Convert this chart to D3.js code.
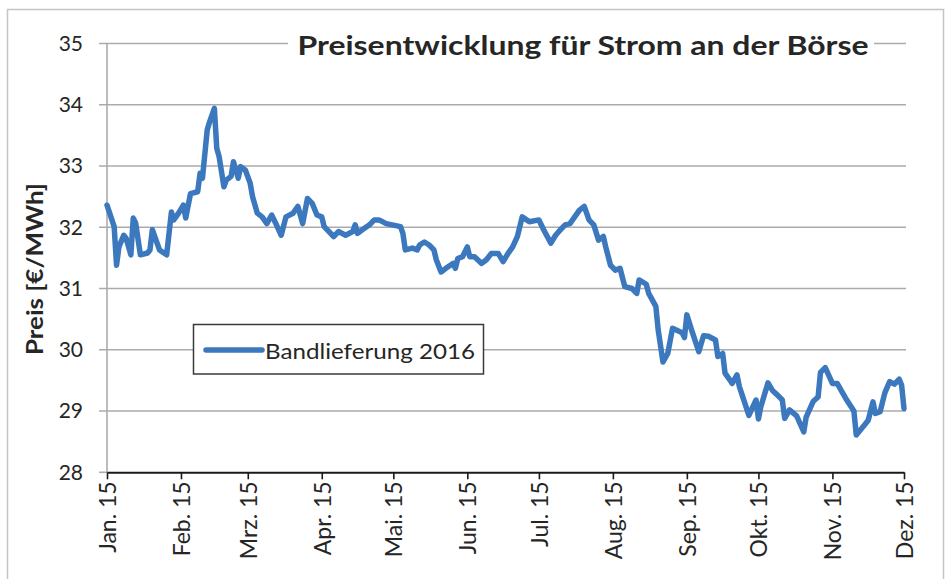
<!DOCTYPE html>
<html>
<head>
<meta charset="utf-8">
<script src="https://cdn.jsdelivr.net/npm/d3@7"></script>
<style>
  body { margin: 0; background: #fff; }
  svg text { font-family: Lato, "Open Sans", sans-serif; fill: #262626; }
</style>
</head>
<body>
<div id="chart"></div>
<script>
// days after 1 Jan 2015 and price in EUR/MWh
var days = [0, 3, 4, 5, 7, 8, 10, 11, 12, 14, 17, 18, 19, 21, 22, 25, 27, 28, 30, 32,
    33, 35, 38, 39, 40, 42, 43, 45, 46, 47, 49, 50, 52, 53, 55, 56, 58, 60, 61, 63,
    65, 67, 69, 71, 73, 75, 78, 80, 82, 84, 86, 88, 90, 91, 95, 97, 100, 103, 104, 105,
    107, 110, 112, 114, 117, 123, 124, 125, 128, 130, 131, 133, 135, 137, 138, 140, 142, 145, 146, 147,
    149, 151, 152, 154, 157, 159, 161, 164, 166, 168, 170, 172, 174, 177, 181, 183, 186, 188, 190, 192,
    194, 196, 198, 200, 202, 204, 206, 208, 209, 211, 213, 215, 217, 220, 222, 223, 226, 227, 230, 231,
    233, 235, 237, 241, 242, 243, 245, 248, 250, 252, 255, 256, 258, 259, 261, 262, 264, 265, 269, 272,
    273, 274, 277, 279, 281, 283, 284, 286, 289, 292, 293, 296, 298, 299, 301, 304, 306, 310, 313, 314,
    317, 319, 321, 322, 324, 326, 328, 330, 332, 333, 334];

var prices = [32.36, 32.01, 31.38, 31.68, 31.87, 31.82, 31.55, 32.15, 32.07, 31.55, 31.58, 31.63, 31.96, 31.74, 31.63, 31.55, 32.25, 32.12, 32.23, 32.36,
    32.15, 32.55, 32.58, 32.88, 32.80, 33.59, 33.72, 33.94, 33.29, 33.15, 32.66, 32.77, 32.83, 33.07, 32.80, 32.99, 32.93, 32.72, 32.50, 32.23,
    32.17, 32.06, 32.20, 32.04, 31.87, 32.17, 32.23, 32.34, 32.06, 32.47, 32.39, 32.20, 32.17, 32.01, 31.85, 31.93, 31.87, 31.93, 32.04, 31.90,
    31.96, 32.04, 32.12, 32.12, 32.06, 32.01, 31.90, 31.63, 31.66, 31.63, 31.71, 31.76, 31.71, 31.63, 31.47, 31.27, 31.33, 31.41, 31.33, 31.49,
    31.52, 31.68, 31.52, 31.52, 31.41, 31.47, 31.57, 31.57, 31.44, 31.57, 31.68, 31.85, 32.17, 32.09, 32.12, 31.96, 31.74, 31.87, 31.96, 32.04,
    32.06, 32.17, 32.28, 32.34, 32.12, 32.04, 31.79, 31.85, 31.68, 31.38, 31.30, 31.33, 31.03, 31.00, 30.92, 31.14, 31.07, 30.92, 30.71, 30.32,
    29.80, 29.94, 30.35, 30.28, 30.20, 30.57, 30.32, 29.97, 30.23, 30.22, 30.16, 29.89, 29.94, 29.62, 29.51, 29.45, 29.59, 29.40, 28.93, 29.18,
    28.87, 29.07, 29.46, 29.33, 29.26, 29.18, 28.88, 29.02, 28.92, 28.66, 28.90, 29.16, 29.23, 29.63, 29.71, 29.45, 29.45, 29.18, 29.00, 28.61,
    28.75, 28.85, 29.15, 28.96, 28.99, 29.30, 29.48, 29.44, 29.52, 29.42, 29.04];

var monthLabels = ["Jan. 15", "Feb. 15", "Mrz. 15", "Apr. 15", "Mai. 15", "Jun. 15",
    "Jul. 15", "Aug. 15", "Sep. 15", "Okt. 15", "Nov. 15", "Dez. 15"];
var yTicks = [28, 29, 30, 31, 32, 33, 34, 35];
var seriesName = "Bandlieferung 2016";
var chartTitle = "Preisentwicklung für Strom an der Börse";
var yTitle = "Preis [€/MWh]";

var width = 950, height = 579;
var margin = { top: 43.5, right: 46, bottom: 107, left: 107 };

var start = new Date(2015, 0, 1);
var data = days.map((d, i) => ({ date: d3.timeDay.offset(start, d), price: prices[i] }));
var monthDates = monthLabels.map((m, i) => new Date(2015, i, 1));

var svg = d3.select("#chart").append("svg")
    .attr("width", width)
    .attr("height", height);

// outer chart border
svg.append("rect")
    .attr("x", 7.5).attr("y", 9.5)
    .attr("width", 936).attr("height", 590)
    .attr("fill", "none")
    .attr("stroke", "#c4c4c4")
    .attr("stroke-width", 1.5);

var x = d3.scaleTime()
    .domain([start, new Date(2015, 11, 1)])
    .range([margin.left, 904]);

var y = d3.scaleLinear()
    .domain([28, 35])
    .range([472.3, margin.top]);

// gridlines (they poke out left of the axis like excel's tick marks)
svg.append("g")
    .attr("class", "grid")
    .selectAll("line")
    .data(yTicks.filter(d => d != 28)).enter()
    .append("line")
    .attr("x1", 99).attr("x2", 906)
    .attr("y1", d => y(d)).attr("y2", d => y(d))
    .attr("stroke", "#ababab")
    .attr("stroke-width", 1.6);

// vertical axis line
svg.append("line")
    .attr("x1", x(start)).attr("x2", x(start))
    .attr("y1", y(35)).attr("y2", y(28))
    .attr("stroke", "#ababab")
    .attr("stroke-width", 1.6);

svg.append("line")
    .attr("x1", 99).attr("x2", x(start))
    .attr("y1", y(28)).attr("y2", y(28))
    .attr("stroke", "#ababab")
    .attr("stroke-width", 1.6);

// y tick labels
svg.append("g")
    .selectAll("text")
    .data(yTicks).enter()
    .append("text")
    .attr("x", 83)
    .attr("y", d => y(d))
    .attr("dy", "0.35em")
    .attr("text-anchor", "end")
    .style("font-size", "21px")
    .text(d => d);

// x axis
var xAxis = d3.axisBottom(x)
    .tickValues(monthDates)
    .tickFormat((d, i) => monthLabels[i])
    .tickSize(7)
    .tickSizeOuter(0);

var xAxisG = svg.append("g")
    .attr("transform", `translate(0, ${y(28)})`)
    .call(xAxis);

xAxisG.select(".domain")
    .attr("stroke", "#1a1a1a")
    .attr("stroke-width", 2);

xAxisG.selectAll(".tick line")
    .attr("stroke", "#1a1a1a")
    .attr("stroke-width", 1.6);

xAxisG.selectAll(".tick text")
    .attr("transform", "rotate(-90)")
    .attr("text-anchor", "end")
    .attr("x", -9)
    .attr("y", 0)
    .attr("dy", "0.36em")
    .style("font-size", "23px")
    .style("font-family", "Lato, sans-serif")
    .attr("fill", "#262626");

// the price line
var line = d3.line()
    .x(d => x(d.date))
    .y(d => y(d.price));

svg.append("path")
    .datum(data)
    .attr("d", line)
    .attr("fill", "none")
    .attr("stroke", "#3b78bd")
    .attr("stroke-width", 5.5)
    .attr("stroke-linejoin", "round")
    .attr("stroke-linecap", "round");

// title on white backing so the top gridline breaks around it
svg.append("rect")
    .attr("x", 288).attr("y", 28)
    .attr("width", 586).attr("height", 36)
    .attr("fill", "#fff");

svg.append("text")
    .attr("x", 583)
    .attr("y", 55)
    .attr("text-anchor", "middle")
    .attr("textLength", 571)
    .attr("lengthAdjust", "spacingAndGlyphs")
    .style("font-size", "26px")
    .style("font-weight", "bold")
    .attr("fill", "#1a1a1a")
    .text(chartTitle);

// y axis title
svg.append("text")
    .attr("transform", "translate(43, 269) rotate(-90)")
    .attr("text-anchor", "middle")
    .attr("textLength", 172)
    .attr("lengthAdjust", "spacingAndGlyphs")
    .style("font-size", "22px")
    .style("font-weight", "bold")
    .text(yTitle);

// legend
var legend = svg.append("g");

legend.append("rect")
    .attr("x", 193.5).attr("y", 324.5)
    .attr("width", 290).attr("height", 49.5)
    .attr("fill", "#fff")
    .attr("stroke", "#3a3a3a")
    .attr("stroke-width", 1.5);

legend.append("line")
    .attr("x1", 206).attr("x2", 262)
    .attr("y1", 350).attr("y2", 350)
    .attr("stroke", "#3b78bd")
    .attr("stroke-width", 5.5)
    .attr("stroke-linecap", "round");

legend.append("text")
    .attr("x", 265)
    .attr("y", 359)
    .attr("textLength", 210)
    .attr("lengthAdjust", "spacingAndGlyphs")
    .style("font-size", "22px")
    .text(seriesName);
</script>
</body>
</html>
